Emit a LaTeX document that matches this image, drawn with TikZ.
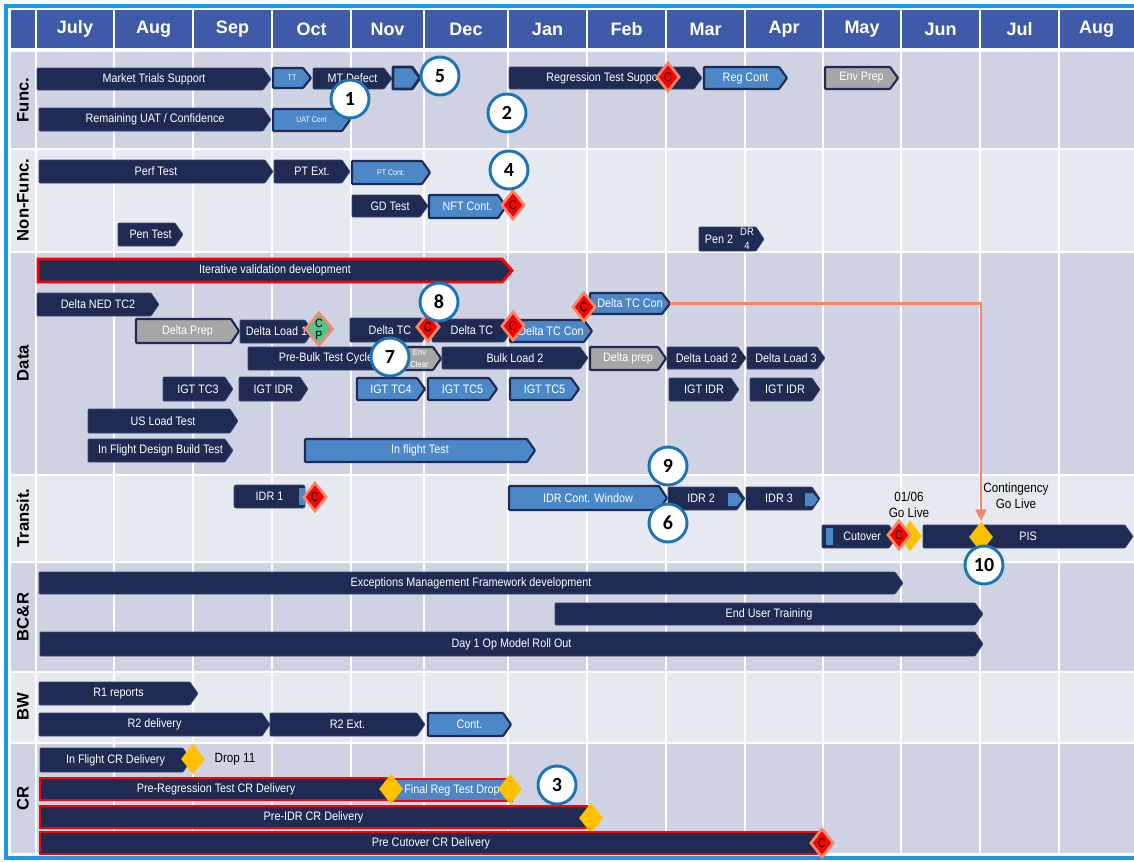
\documentclass[tikz,border=0pt]{standalone}
\usepackage{fontspec}
\setmainfont{Liberation Sans}
\newfontfamily\nar[FakeStretch=0.88]{Liberation Sans}
\newfontfamily\carl{Carlito}
\usetikzlibrary{shapes.geometric,arrows.meta}
\definecolor{frameblue}{HTML}{1A98E6}
\definecolor{headblue}{HTML}{3F5AA8}
\definecolor{bandd}{HTML}{CED2E3}
\definecolor{bandl}{HTML}{E7E9F1}
\definecolor{navy}{HTML}{1F2B53}
\definecolor{navyedge}{HTML}{3A4873}
\definecolor{lblue}{HTML}{4C87C8}
\definecolor{greybar}{HTML}{A6A6A6}
\definecolor{cred}{HTML}{FF0000}
\definecolor{salmon}{HTML}{F4876A}
\definecolor{ygold}{HTML}{FFC000}
\definecolor{cpgreen}{HTML}{52C48E}
\definecolor{cblue}{HTML}{1C74B8}
% bar: [point] name style x1 x2 y1 y2 nodeopts text
\newcommand\gbr[9][8]{%
  \path[#3] (#4,#6) -- ({#5-#1},#6) -- (#5,{(#6+#7)/2}) -- ({#5-#1},#7) -- (#4,#7) -- cycle;
  \node[bartxt,minimum width={(#5-#4)*0.75pt},minimum height={(#7-#6)*0.75pt},#8] (#2) at ({(#4+#5)/2},{(#6+#7)/2}) {#9};
}
\begin{document}
\begin{tikzpicture}[x=0.75pt,y=-0.75pt,
  navyb/.style={fill=navy,draw=navyedge,line width=0.5pt,rounded corners=0.6pt},
  lblueb/.style={fill=lblue,draw=navy,line width=1.6pt,rounded corners=0.6pt},
  greyb/.style={fill=greybar,draw=navy,line width=1.6pt,rounded corners=0.6pt},
  redb/.style={fill=navy,draw=cred,line width=2.2pt},
  lred/.style={fill=lblue,draw=cred,line width=2pt},
  bartxt/.style={inner sep=0pt,text=white,font=\nar\fontsize{9.2}{10}\selectfont},
  tinyt/.style={font=\nar\fontsize{6}{7}\selectfont},
  blk/.style={inner sep=0pt,text=black,font=\nar\fontsize{10}{12}\selectfont,align=center},
  cdia/.style={diamond,fill=cred,draw=salmon,line width=2pt,inner sep=0pt,minimum width=17.5pt,minimum height=22pt,text=black,font=\nar\fontsize{9.5}{9.5}\selectfont},
  gdia/.style={diamond,fill=cpgreen,draw=salmon,line width=2pt,inner sep=0pt,minimum width=18pt,minimum height=25pt,text=black,align=center,font=\nar\fontsize{9}{9}\selectfont},
  ydia/.style={diamond,fill=ygold,inner sep=0pt,minimum width=18pt,minimum height=23pt},
  num/.style={circle,fill=white,draw=cblue,line width=2.2pt,minimum size=28.5pt,inner sep=0pt,text=black,font=\carl\bfseries\fontsize{15}{15}\selectfont},
  rowlab/.style={rotate=90,inner sep=0pt,text=black,font=\bfseries\fontsize{12.5}{13}\selectfont},
  month/.style={inner sep=0pt,text=white,font=\bfseries\fontsize{13.5}{14}\selectfont}
]
\useasboundingbox (0,0) rectangle (1134,861);
\clip (0,0) rectangle (1134,861);
\fill[white] (0,0) rectangle (1134,861);
% header
\fill[headblue] (11,10) rectangle (1134,48);
% bands
\fill[bandd] (11,52) rectangle (1134,148);
\fill[bandl] (11,150) rectangle (1134,251);
\fill[bandd] (11,253) rectangle (1134,474);
\fill[bandl] (11,476) rectangle (1134,561);
\fill[bandd] (11,563) rectangle (1134,671);
\fill[bandl] (11,673) rectangle (1134,742);
\fill[bandd] (11,744) rectangle (1134,853);
\foreach \x in {36,114,193,272,351,424,508,587,666,745,823,901,980,1059}
  \draw[white,line width=1.5pt] (\x,10) -- (\x,853);
% frame
\draw[frameblue,line width=3pt] (1150,6) -- (5.5,6) -- (5.5,857.5) -- (1150,857.5);
% months
\foreach \c/\m [count=\i] in {75/July,153.5/Aug,232.5/Sep,311.5/Oct,387.5/Nov,466/Dec,547.5/Jan,626.5/Feb,705.5/Mar,784/Apr,862/May,940.5/Jun,1019.5/Jul,1096.5/Aug}
  \node[month] (m\i) at (\c,29) {\m};
% row labels
\node[rowlab] (lf) at (23,100) {Func.};
\node[rowlab] (lnf) at (23,200) {Non-Func.};
\node[rowlab] (ld) at (23,363) {Data};
\node[rowlab] (lt) at (23,518) {Transit.};
\node[rowlab] (lb) at (23,617) {BC\&R};
\node[rowlab] (lbw) at (23,707) {BW};
\node[rowlab] (lcr) at (23,798) {CR};

% ---------- Func.
\gbr{mts}{navyb}{37}{271}{68}{90}{}{Market  Trials Support}
\gbr{tt}{lblueb}{273}{311}{68}{88}{tinyt}{TT}
\gbr{mtd}{navyb}{313}{392}{68}{89}{}{MT Defect}
\gbr{sbx}{lblueb,line width=2.2pt}{393}{420}{67}{89}{}{}
\gbr{rts}{navyb}{509}{702}{67}{89}{}{Regression Test Support}
\gbr{regc}{lblueb}{704}{787}{67}{89}{}{Reg Cont}
\gbr{envp}{greyb}{825}{898}{67}{89}{}{Env Prep}
\gbr{ruat}{navyb}{39}{271}{108}{131}{}{Remaining UAT  / Confidence}
\gbr{uatc}{lblueb}{273}{350}{109}{131}{tinyt}{UAT Cont}
\node[cdia] (c1) at (668,77) {C};

% ---------- Non-Func.
\gbr{perf}{navyb}{39}{273}{160}{183}{}{Perf Test}
\gbr{ptext}{navyb}{274}{350}{160}{183}{}{PT Ext.}
\gbr{ptc}{lblueb}{352}{430}{161}{184}{tinyt}{PT Cont.}
\gbr{gdt}{navyb}{352}{428}{195}{217}{}{GD Test}
\gbr{nftc}{lblueb}{429}{506}{195}{218}{}{NFT Cont.}
\node[cdia] (c2) at (513,205) {C};
\gbr{pen}{navyb}{118}{183}{223}{246}{}{Pen Test}
\gbr{pen2}{navyb}{699}{764}{227}{251}{}{}
\node[bartxt] (pen2a) at (719,239) {Pen 2};
\node[bartxt,align=center,font=\nar\fontsize{8}{10.5}\selectfont] (pen2b) at (747,239) {DR\\4};

% ---------- Data
\gbr[10]{ivd}{redb}{38}{512}{259}{282}{}{Iterative  validation  development}
\gbr{dned}{navyb}{37}{159}{293}{316}{}{Delta NED TC2}
\gbr{dprep}{greyb}{136}{239}{319}{343}{}{Delta Prep}
\gbr{dl1}{navyb}{240}{313}{320}{343}{}{Delta  Load 1}
\node[gdia] (cp) at (319,329) {C\\P};
\gbr{dtca}{navyb}{350}{430}{318}{342}{}{Delta TC}
\gbr{dtcb}{navyb}{432}{512}{319}{342}{}{Delta TC}
\gbr{dtcca}{lblueb}{510}{592}{320}{342}{}{Delta TC Con}
\gbr{dtccb}{lblueb}{590}{670}{293}{314}{}{Delta TC Con}
\node[cdia] (c3) at (428,327) {C};
\node[cdia] (c4) at (513,326) {C};
\node[cdia] (c5) at (584,307) {C};
\gbr{pbtc}{navyb}{248}{404}{347}{370}{}{Pre-Bulk Test Cycle}
\gbr{envc}{greyb}{398}{441}{347}{370}{align=center,font=\nar\fontsize{6.5}{9}\selectfont}{Env\\Clear}
\gbr{bl2}{navyb}{442}{588}{347}{369}{}{Bulk Load 2}
\gbr{dprepb}{greyb}{590}{666}{347}{370}{}{Delta prep}
\gbr{dl2}{navyb}{667}{746}{347}{369}{}{Delta  Load 2}
\gbr{dl3}{navyb}{747}{825}{347}{369}{}{Delta Load 3}
\gbr{igta}{navyb}{163}{233}{377}{401}{}{IGT  TC3}
\gbr{igtb}{navyb}{239}{308}{377}{401}{}{IGT  IDR}
\gbr{igtc}{lblueb}{357}{425}{378}{400}{}{IGT  TC4}
\gbr{igtd}{lblueb}{428}{497}{378}{400}{}{IGT  TC5}
\gbr{igte}{lblueb}{510}{579}{378}{400}{}{IGT  TC5}
\gbr{igtf}{navyb}{669}{739}{378}{401}{}{IGT  IDR}
\gbr{igtg}{navyb}{750}{820}{378}{401}{}{IGT  IDR}
\gbr{uslt}{navyb}{88}{238}{409}{433}{}{US Load Test}
\gbr{ifdbt}{navyb}{88}{233}{439}{462}{}{In Flight  Design Build Test}
\gbr{ift}{lblueb}{305}{535}{439}{462}{}{In flight Test}

% ---------- Transit.
\gbr[0]{idra}{navyb,rounded corners=1.5pt}{234}{305}{485}{508}{}{IDR 1}
\fill[lblue] (299,488) rectangle (305,505);
\node[cdia] (c6) at (315,497) {C};
\gbr{idrcw}{lblueb}{509}{667}{486}{510}{}{IDR Cont. Window}
\gbr{idrb}{navyb}{668}{745}{487}{510}{xshift=-4pt}{IDR 2}
\fill[lblue] (728,493) -- (737,493) -- (742,499.5) -- (737,506) -- (728,506) -- cycle;
\gbr{idrc}{navyb}{746}{820}{487}{510}{xshift=-3pt}{IDR 3}
\fill[lblue] (805,493) -- (813,493) -- (818,499.5) -- (813,506) -- (805,506) -- cycle;
\gbr{cut}{navyb}{822}{897}{525}{548}{xshift=2pt}{Cutover}
\fill[lblue] (826,528) rectangle (833,545);
\node[ydia] (ygl) at (910,536) {};
\node[cdia] (c7) at (899,535) {C};
\node[blk] (golive) at (909,505) {01/06\\Go Live};
\node[blk] (contgl) at (1016,496) {Contingency\\Go Live};
\gbr{pis}{navyb}{923}{1133}{525}{548}{}{PIS}
\node[ydia] (ypis) at (981,537) {};

% ---------- BC&R
\gbr{emfd}{navyb}{39}{903}{572}{594}{}{Exceptions Management  Framework development}
\gbr{eut}{navyb}{555}{983}{603}{625}{}{End User Training}
\gbr{dayone}{navyb}{40}{983}{632}{656}{}{Day 1 Op Model  Roll Out}

% ---------- BW
\gbr{rone}{navyb}{39}{198}{682}{705}{}{R1 reports}
\gbr{rtwo}{navyb}{39}{270}{713}{736}{}{R2 delivery}
\gbr{rtwoe}{navyb}{270}{425}{713}{736}{}{R2 Ext.}
\gbr{bwc}{lblueb}{428}{511}{713}{736}{}{Cont.}

% ---------- CR
\gbr{ifcr}{navyb}{40}{191}{748}{772}{}{In Flight CR Delivery}
\node[ydia] (yd1) at (193,759) {};
\node[blk] (drop) at (235,759) {Drop 11};
\gbr[0]{prcr}{redb}{40}{392}{778}{800}{}{Pre-Regression Test CR Delivery}
\gbr[0]{frtd}{lred}{392}{512}{779}{801}{}{Final Reg Test Drop}
\node[ydia] (yd2) at (391,789) {};
\node[ydia] (yd3) at (510,789) {};
\gbr[0]{picr}{redb}{40}{587}{806}{828}{}{Pre-IDR CR Delivery}
\node[ydia] (yd4) at (591,818) {};
\gbr[0]{pccr}{redb}{40}{822}{832}{854}{}{Pre Cutover CR Delivery}
\node[cdia] (c8) at (822,843) {C};

% connector
\draw[salmon,line width=2.2pt,-{Triangle[length=9pt,width=8pt]}] (dtccb.east) -| (ypis.north);

% numbered circles
\node[num] (n1) at (350,99) {1};
\node[num] (n2) at (507,113) {2};
\node[num] (n3) at (557,785) {3};
\node[num] (n4) at (509,170) {4};
\node[num] (n5) at (440,76) {5};
\node[num] (n6) at (668,523) {6};
\node[num] (n7) at (390,357) {7};
\node[num] (n8) at (439,302) {8};
\node[num] (n9) at (668,466) {9};
\node[num] (n10) at (984,565) {10};
\end{tikzpicture}
\end{document}
